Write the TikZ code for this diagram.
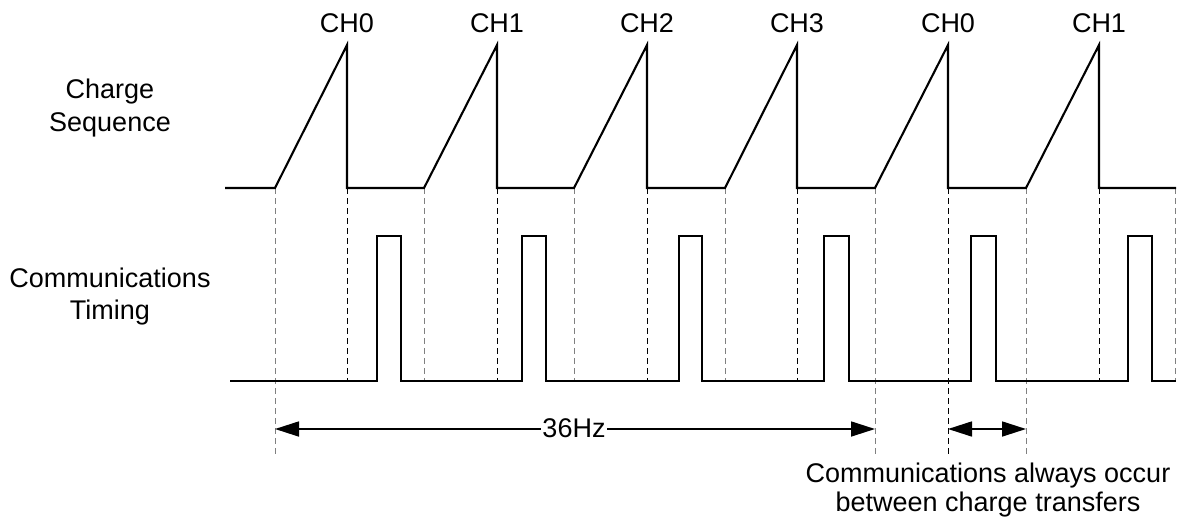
\documentclass[tikz,border=0pt]{standalone}
\usepackage{fontspec}
\setmainfont{Liberation Sans}
\usetikzlibrary{arrows.meta}
\begin{document}
\begin{tikzpicture}[x=1pt,y=-1pt,
  sig/.style={line width=2.1pt, line join=miter},
  guide/.style={line width=0.9pt, dash pattern=on 6pt off 4pt},
  guidegray/.style={guide, draw=black!50},
  lbl/.style={font=\fontsize{27}{32}\selectfont, inner sep=0pt, anchor=base},
  dimarrow/.style={line width=1.7pt, {Triangle[length=24pt,width=15pt]}-{Triangle[length=24pt,width=15pt]}}]
\useasboundingbox (0,0) rectangle (1177,525);

% guide lines (ramp starts: gray, peaks: black)
\foreach \x in {424,574,725,1175} \draw[guidegray] (\x,188) -- (\x,381);
\foreach \x in {275,875,1026} \draw[guidegray] (\x,188) -- (\x,457);
\foreach \x in {347,497,647,797,1099} \draw[guide] (\x,188) -- (\x,381);
\draw[guide] (948,188) -- (948,457);

% charge sequence
\draw[sig] (225,188) -- (275,188) -- (347,45) -- (347,188) -- (424,188) -- (497,45) -- (497,188)
  -- (574,188) -- (647,45) -- (647,188) -- (725,188) -- (797,45) -- (797,188)
  -- (875,188) -- (948,45) -- (948,188) -- (1026,188) -- (1099,45) -- (1099,188) -- (1176,188);

% communications timing
\draw[sig] (230,381) -- (377,381) -- (377,236) -- (401,236) -- (401,381)
  -- (522,381) -- (522,236) -- (546,236) -- (546,381)
  -- (679,381) -- (679,236) -- (702,236) -- (702,381)
  -- (824,381) -- (824,236) -- (849,236) -- (849,381)
  -- (971,381) -- (971,236) -- (996,236) -- (996,381)
  -- (1128,381) -- (1128,236) -- (1152,236) -- (1152,381) -- (1176,381);

% channel labels
\node[lbl] (ch0a) at (347,32) {CH0};
\node[lbl] (ch1a) at (497,32) {CH1};
\node[lbl] (ch2)  at (647,32) {CH2};
\node[lbl] (ch3)  at (797,32) {CH3};
\node[lbl] (ch0b) at (948,32) {CH0};
\node[lbl] (ch1b) at (1099,32) {CH1};

% row labels
\node[lbl] (cs1) at (110,98) {Charge};
\node[lbl] (cs2) at (110,131) {Sequence};
\node[lbl] (ct1) at (110,287) {Communications};
\node[lbl] (ct2) at (110,319) {Timing};

% dimension arrows
\coordinate (a1) at (275,429);
\coordinate (a2) at (875,429);
\coordinate (b1) at (948,429);
\coordinate (b2) at (1026,429);
\draw[dimarrow] (a1) -- (a2);
\draw[dimarrow] (b1) -- (b2);
\node[lbl, fill=white, inner sep=1pt] (hz) at (574,437) {36Hz};

% note
\node[lbl] (note1) at (988,482) {Communications always occur};
\node[lbl] (note2) at (988,511) {between charge transfers};
\end{tikzpicture}
\end{document}
